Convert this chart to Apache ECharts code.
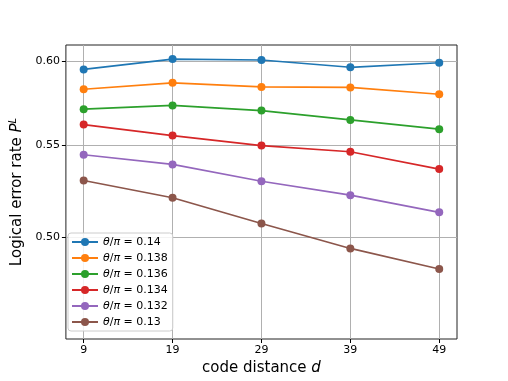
<!DOCTYPE html>
<html>
<head>
<meta charset="utf-8">
<script src="https://cdn.jsdelivr.net/npm/echarts@6/dist/echarts.min.js"></script>
<style>
  html, body { margin: 0; padding: 0; background: #fff; }
  #chart { width: 508px; height: 381px; }
</style>
</head>
<body>
<div id="chart"></div>
<script>
// code distances on the x axis
const distances = [9, 19, 29, 39, 49];
const yTicks = [0.5, 0.55, 0.6];

// logical error rate per theta/pi
const theta = ['0.14', '0.138', '0.136', '0.134', '0.132', '0.13'];
const err140 = [0.5948, 0.6012, 0.6006, 0.5961, 0.5989];
const err138 = [0.5827, 0.5866, 0.5841, 0.5838, 0.5797];
const err136 = [0.5708, 0.5730, 0.5700, 0.5645, 0.5591];
const err134 = [0.5618, 0.5554, 0.5497, 0.5462, 0.5365];
const err132 = [0.5445, 0.5391, 0.5298, 0.5222, 0.5130];
const err130 = [0.5302, 0.5208, 0.5071, 0.4942, 0.4838];

const allErr = [err140, err138, err136, err134, err132, err130];
const colors = ['#1f77b4', '#ff7f0e', '#2ca02c', '#d62728', '#9467bd', '#8c564b'];
const font = 'DejaVu Sans';

const chart = echarts.init(document.getElementById('chart'));

const option = {
  animation: false,
  color: colors,
  textStyle: { fontFamily: font },
  grid: {
    left: 64, top: 45, right: 51, bottom: 42,
    show: true, borderColor: '#222', borderWidth: 1, backgroundColor: 'transparent',
  },
  legend: {
    orient: 'vertical',
    left: 68, top: 233,
    padding: [3, 5, 3, 3],
    itemWidth: 26, itemHeight: 10,
    itemGap: 4,
    backgroundColor: 'rgba(255,255,255,0.85)',
    borderColor: '#cccccc', borderWidth: 1, borderRadius: 3,
    textStyle: {
      fontFamily: font, fontSize: 11, color: '#000', lineHeight: 12,
      rich: { i: { fontStyle: 'italic', fontFamily: font, fontSize: 11 } },
    },
    formatter: (name) => '{i|θ}/{i|π} = ' + name.split('= ')[1],
  },
  xAxis: {
    type: 'value',
    min: 7, max: 51,
    name: 'code distance {i|d}',
    nameLocation: 'middle',
    nameGap: 22,
    nameTextStyle: {
      fontSize: 15, color: '#000', fontFamily: font,
      rich: { i: { fontStyle: 'italic', fontSize: 15, fontFamily: font } },
    },
    axisLine: { show: false },
    axisTick: { show: true, inside: false, length: 4, lineStyle: { color: '#000' }, customValues: distances },
    axisLabel: { fontSize: 11, color: '#000', margin: 6, customValues: distances },
    splitLine: { show: true, lineStyle: { color: '#b0b0b0', width: 1 } },
  },
  yAxis: {
    type: 'log',
    logBase: 10,
    min: 0.45, max: 0.61,
    name: 'Logical error rate {i|P}{s|L}',
    nameLocation: 'middle',
    nameGap: 34,
    nameTextStyle: {
      fontSize: 15, color: '#000', fontFamily: font,
      rich: {
        i: { fontStyle: 'italic', fontSize: 15, fontFamily: font },
        s: { fontStyle: 'italic', fontSize: 10, fontFamily: font, verticalAlign: 'top', padding: [0, 0, 8, 0] },
      },
    },
    axisLine: { show: false },
    axisTick: { show: true, inside: false, length: 4, lineStyle: { color: '#000' }, customValues: yTicks },
    axisLabel: {
      fontSize: 11, color: '#000', margin: 6, customValues: yTicks,
      formatter: (v) => Number(v).toFixed(2),
    },
    splitLine: { show: true, lineStyle: { color: '#b0b0b0', width: 1 } },
    minorTick: { show: false },
  },
  series: allErr.map((vals, k) => ({
    name: 'θ/π = ' + theta[k],
    type: 'line',
    data: distances.map((d, i) => [d, vals[i]]),
    symbol: 'circle',
    symbolSize: 8,
    lineStyle: { width: 1.7 },
    itemStyle: { color: colors[k] },
  })),
};

chart.setOption(option);
</script>
</body>
</html>
